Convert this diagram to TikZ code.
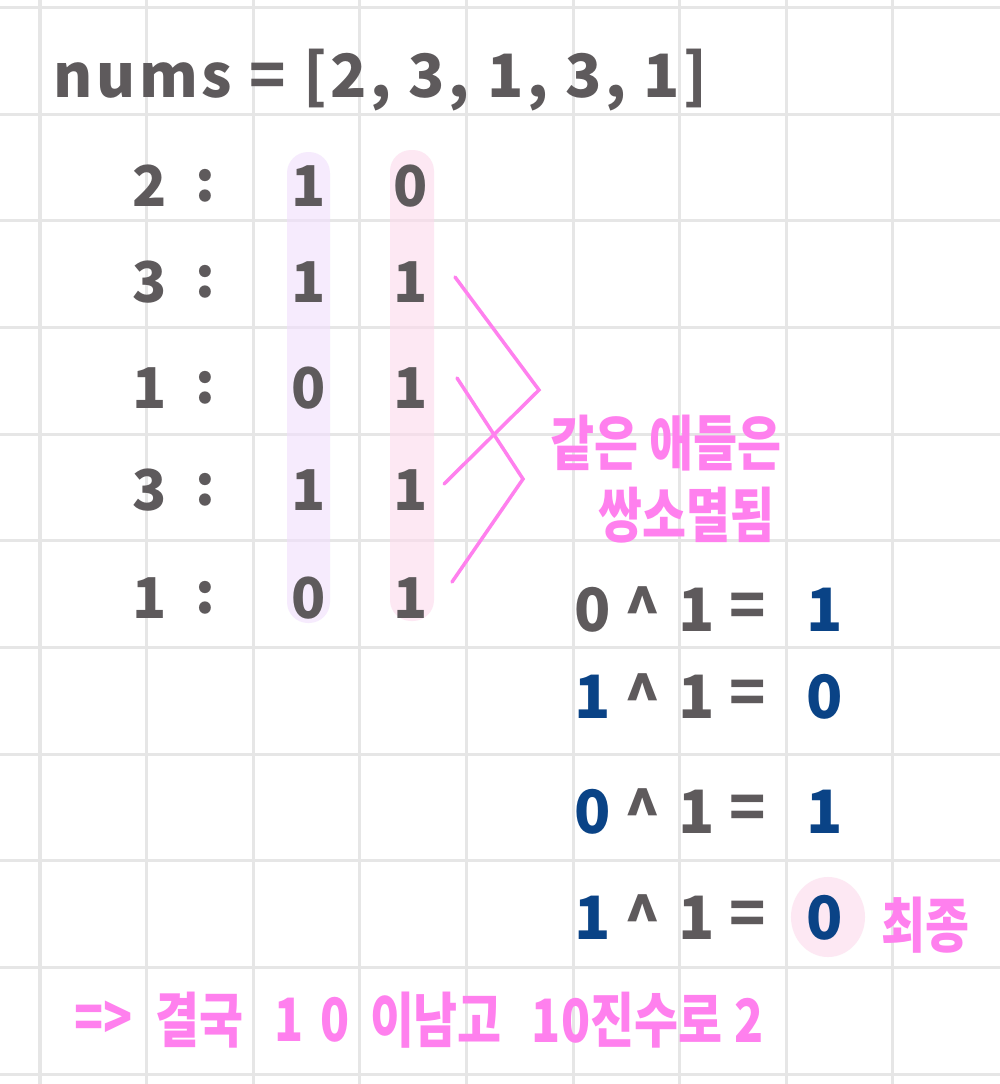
\documentclass[tikz,border=0pt]{standalone}
\usepackage{fontspec}
\setmainfont{Noto Sans CJK KR}
\newfontfamily\krfont[FakeStretch=0.8]{Noto Sans CJK KR}

\definecolor{gridgray}{HTML}{E6E6E6}
\definecolor{inkgray}{HTML}{5E5A5C}
\definecolor{inkblue}{HTML}{0A4386}
\definecolor{inkpink}{HTML}{FF80EE}
\definecolor{lavfill}{HTML}{F0DFFC}
\definecolor{pinkfill}{HTML}{FCDAEB}

\tikzset{
  grid_line/.style={draw=gridgray, line width=0.03cm},
  bit_col/.style={fill opacity=0.6, rounded corners=2.1mm},
  title_txt/.style={text=inkgray, inner sep=0pt, font=\fontsize{17}{20}\selectfont\bfseries\addfontfeatures{LetterSpace=6}},
  row_txt/.style={text=inkgray, inner sep=0pt, font=\fontsize{16}{19}\selectfont\bfseries},
  eq_txt/.style={text=inkgray, inner sep=0pt, font=\fontsize{17}{20}\selectfont\bfseries},
  pink_txt/.style={text=inkpink, inner sep=0pt, font=\krfont\fontsize{17}{20}\selectfont\bfseries},
  pink_line/.style={draw=inkpink, line width=0.035cm, line cap=round}
}

\begin{document}
\begin{tikzpicture}[x=0.01cm, y=-0.01cm]
  \fill[white] (0,0) rectangle (1000,1084);
  \useasboundingbox (0,0) rectangle (1000,1084);

  % paper grid
  \foreach \k in {0,...,8}
    \draw[grid_line] ({40+106.6*\k},0) -- ({40+106.6*\k},1084);
  \foreach \k in {0,...,10}
    \draw[grid_line] (0,{7.3+106.7*\k}) -- (1000,{7.3+106.7*\k});

  % bit columns
  \fill[lavfill, bit_col] (287,152) rectangle (330,623);
  \fill[pinkfill, bit_col] (390,150) rectangle (434,621);

  \node[title_txt, anchor=base west] (title) at (53,97) {nums = [2, 3, 1, 3, 1]};

  \foreach \y/\v/\a/\b [count=\i] in {186/2/1/0, 282/3/1/1, 388/1/0/1, 490/3/1/1, 598/1/0/1} {
      \node[row_txt] (num_\i) at (150,\y) {\v};
      \node[row_txt] (colon_\i) at (205,\y) {:};
      \node[row_txt] (bitA_\i) at (309,\y) {\a};
      \node[row_txt] (bitB_\i) at (411,\y) {\b};
    }

  % cancel marks
  \coordinate (brA_top) at (455,277);
  \coordinate (brA_tip) at (539,390);
  \coordinate (brA_end) at (444,484);
  \coordinate (brB_top) at (457,378);
  \coordinate (brB_tip) at (523,479);
  \coordinate (brB_end) at (452,582);
  \draw[pink_line] (brA_top) -- (brA_tip) -- (brA_end);
  \draw[pink_line] (brB_top) -- (brB_tip) -- (brB_end);

  \node[pink_txt] (same_lbl) at (666,443) {같은 애들은};
  \node[pink_txt] (cancel_lbl) at (686,515) {쌍소멸됨};

  % running xor
  \fill[pinkfill, fill opacity=0.6] (828,917) ellipse [x radius=0.37cm, y radius=0.40cm];
  \foreach \y/\a/\ca/\r [count=\i] in {610/0/inkgray/1, 697/1/inkblue/0, 812/0/inkblue/1, 918/1/inkblue/0} {
      \node[eq_txt, text=\ca] (xa_\i) at (593,\y) {\a};
      \node[eq_txt] (xor_\i) at (643,\y) {\textasciicircum};
      \node[eq_txt] (xb_\i) at (697,\y) {1};
      \node[eq_txt] (eq_\i) at (748,\y) {=};
      \node[eq_txt, text=inkblue] (res_\i) at (825,\y) {\r};
    }
  \node[pink_txt] (final_lbl) at (925,925) {최종};

  % conclusion
  \foreach \x/\t [count=\i] in {104/{=>}, 199/결국, 289/1, 335/0, 436/이남고, 627/10진수로, 749/2}
    \node[pink_txt] (concl_\i) at (\x,1020) {\t};
\end{tikzpicture}
\end{document}
